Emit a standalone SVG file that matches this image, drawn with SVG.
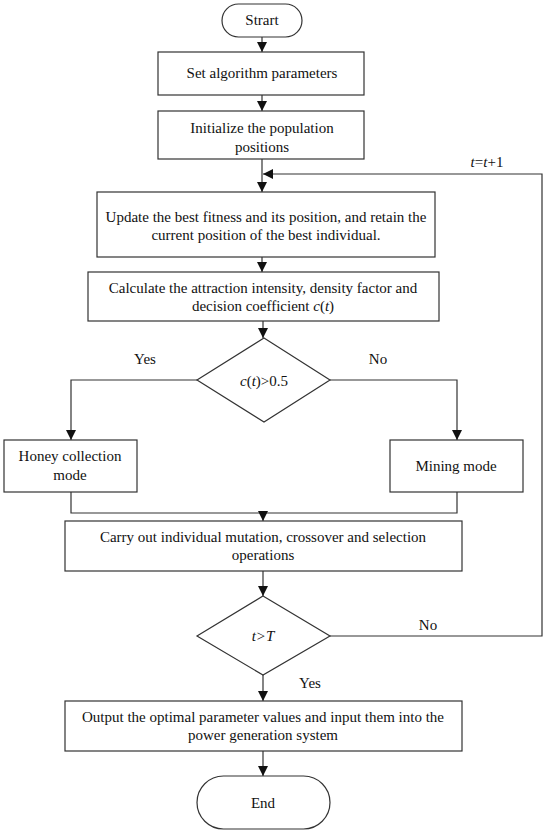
<svg xmlns="http://www.w3.org/2000/svg" width="550" height="834" viewBox="0 0 550 834" font-family="'Liberation Serif', 'Times New Roman', serif">
<style>
.s{fill:#fff;stroke:#333;stroke-width:1.2}
.c{fill:none;stroke:#333;stroke-width:1.2}
text{font-family:'Liberation Serif','Times New Roman',serif;font-size:15px;fill:#111;text-anchor:middle}
.i{font-style:italic}
</style>
<defs>
<marker id="a" markerWidth="10" markerHeight="12" refX="10" refY="5" orient="auto" markerUnits="userSpaceOnUse" viewBox="0 0 10 10">
<path d="M0,0 L10,5 L0,10 Z" fill="#111"/>
</marker>
</defs>
<rect width="550" height="834" fill="#fff"/>
<g id="connectors">
<line class="c" x1="262" y1="37" x2="262" y2="52" marker-end="url(#a)"/>
<line class="c" x1="262" y1="95" x2="262" y2="111" marker-end="url(#a)"/>
<line class="c" x1="262" y1="159" x2="262" y2="192" marker-end="url(#a)"/>
<line class="c" x1="262" y1="257" x2="262" y2="272" marker-end="url(#a)"/>
<line class="c" x1="263" y1="321" x2="263" y2="338" marker-end="url(#a)"/>
<polyline class="c" points="197,380 71,380 71,440" marker-end="url(#a)"/>
<polyline class="c" points="330,380 457,380 457,440" marker-end="url(#a)"/>
<polyline class="c" points="71,492 71,513 457,513 457,492"/>
<line class="c" x1="263" y1="513" x2="263" y2="521" marker-end="url(#a)"/>
<line class="c" x1="263" y1="571" x2="263" y2="596" marker-end="url(#a)"/>
<line class="c" x1="263" y1="675" x2="263" y2="701" marker-end="url(#a)"/>
<line class="c" x1="263" y1="751" x2="263" y2="776" marker-end="url(#a)"/>
<polyline class="c" points="330,636 542,636 542,174 263,174" marker-end="url(#a)"/>
<text x="145" y="364">Yes</text>
<text x="378" y="364">No</text>
<text x="428" y="630">No</text>
<text x="310" y="688">Yes</text>
<text x="487" y="167"><tspan class="i">t</tspan>=<tspan class="i">t</tspan>+1</text>
</g>
<g id="start">
<rect class="s" x="222" y="4" width="80" height="33" rx="16.5"/>
<text x="262" y="25">Strart</text>
</g>
<g id="set-params">
<rect class="s" x="158" y="52" width="206" height="43"/>
<text x="262" y="78">Set algorithm parameters</text>
</g>
<g id="init">
<rect class="s" x="158" y="111" width="206" height="48"/>
<text x="262" y="133">Initialize the population</text>
<text x="262" y="152">positions</text>
</g>
<g id="update">
<rect class="s" x="97" y="192" width="338" height="65"/>
<text x="266" y="222">Update the best fitness and its position, and retain the</text>
<text x="266" y="240">current position of the best individual.</text>
</g>
<g id="calculate">
<rect class="s" x="88" y="272" width="351" height="49"/>
<text x="263" y="293">Calculate the attraction intensity, density factor and</text>
<text x="263" y="311">decision coefficient <tspan class="i">c</tspan>(<tspan class="i">t</tspan>)</text>
</g>
<g id="decision1">
<polygon class="s" points="264,338 330,380 264,422 197,380"/>
<text x="264" y="386"><tspan class="i">c</tspan>(<tspan class="i">t</tspan>)&gt;0.5</text>
</g>
<g id="honey">
<rect class="s" x="4" y="440" width="133" height="52"/>
<text x="70" y="461">Honey collection</text>
<text x="70" y="480">mode</text>
</g>
<g id="mining">
<rect class="s" x="390" y="440" width="133" height="52"/>
<text x="456" y="471">Mining mode</text>
</g>
<g id="mutation">
<rect class="s" x="65" y="521" width="397" height="50"/>
<text x="263" y="542">Carry out individual mutation, crossover and selection</text>
<text x="263" y="560">operations</text>
</g>
<g id="decision2">
<polygon class="s" points="263,596 330,636 263,675 197,636"/>
<text x="263" y="641" class="i">t&gt;T</text>
</g>
<g id="output">
<rect class="s" x="65" y="701" width="397" height="50"/>
<text x="263" y="722">Output the optimal parameter values and input them into the</text>
<text x="263" y="740">power generation system</text>
</g>
<g id="end">
<rect class="s" x="197" y="776" width="133" height="53" rx="26.5"/>
<text x="263" y="808">End</text>
</g>
</svg>
